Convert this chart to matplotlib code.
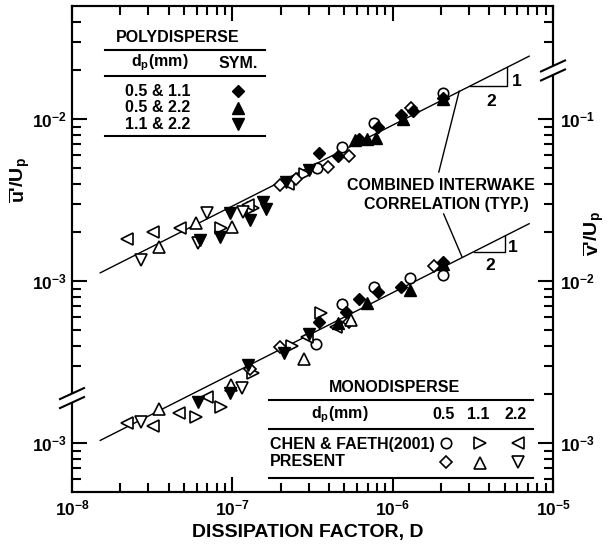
import numpy as np
import matplotlib
matplotlib.use('Agg')
import matplotlib.pyplot as plt
from matplotlib.lines import Line2D
from matplotlib.ticker import FixedLocator, FixedFormatter, NullFormatter
from matplotlib.transforms import IdentityTransform

plt.rcParams.update({
    'font.family': ['Liberation Sans', 'DejaVu Sans'],
    'font.weight': 'bold',
    'mathtext.fontset': 'custom',
    'mathtext.rm': 'Liberation Sans:bold',
    'mathtext.it': 'Liberation Sans:bold',
    'mathtext.bf': 'Liberation Sans:bold',
    'mathtext.sf': 'Liberation Sans:bold',
})

# ---------------- data: upper group (u'/Up, left axis) ----------------
u_poly_05_11_D = [3.45e-7, 4.55e-7, 6.2e-7, 8.13e-7, 1.13e-6, 1.34e-6, 2.05e-6]
u_poly_05_11 = [6.17e-3, 5.9e-3, 7.6e-3, 9.0e-3, 1.06e-2, 1.13e-2, 1.35e-2]
u_poly_05_22_D = [5.83e-7, 6.89e-7, 7.91e-7, 1.16e-6, 2.05e-6]
u_poly_05_22 = [7.4e-3, 7.6e-3, 7.62e-3, 1.0e-2, 1.33e-2]
u_poly_11_22_D = [6.25e-8, 8.32e-8, 9.70e-8, 1.28e-7, 1.55e-7, 1.62e-7, 2.16e-7, 3.01e-7]
u_poly_11_22 = [1.80e-3, 1.88e-3, 2.65e-3, 2.39e-3, 3.10e-3, 2.80e-3, 4.1e-3, 4.88e-3]
u_chen_05_D = [3.36e-7, 4.81e-7, 7.60e-7, 2.05e-6]
u_chen_05 = [4.98e-3, 6.78e-3, 9.44e-3, 1.445e-2]
u_chen_11_D = [8.55e-8, 1.35e-7, 2.85e-7]
u_chen_11 = [2.12e-3, 2.85e-3, 4.6e-3]
u_chen_22_D = [2.21e-8, 3.22e-8, 4.74e-8, 1.245e-7, 2.22e-7]
u_chen_22 = [1.82e-3, 2.0e-3, 2.12e-3, 2.96e-3, 4.0e-3]
u_pres_05_D = [1.99e-7, 2.48e-7, 3.96e-7, 5.37e-7, 1.30e-6]
u_pres_05 = [3.93e-3, 4.3e-3, 5.09e-3, 5.9e-3, 1.167e-2]
u_pres_11_D = [3.50e-8, 5.92e-8, 9.98e-8]
u_pres_11 = [1.63e-3, 2.28e-3, 2.17e-3]
u_pres_22_D = [2.69e-8, 6.14e-8, 6.98e-8, 1.159e-7]
u_pres_22 = [1.35e-3, 1.71e-3, 2.62e-3, 2.69e-3]

# ---------------- data: lower group (v'/Up, right axis) ----------------
v_poly_05_11_D = [3.45e-7, 5.08e-7, 6.17e-7, 8.13e-7, 1.13e-6, 2.05e-6]
v_poly_05_11 = [5.62e-3, 6.49e-3, 7.74e-3, 8.58e-3, 9.16e-3, 1.32e-2]
v_poly_05_22_D = [4.55e-7, 6.89e-7, 1.29e-6, 2.05e-6]
v_poly_05_22 = [5.55e-3, 7.37e-3, 8.80e-3, 1.27e-2]
v_poly_11_22_D = [6.14e-8, 9.70e-8, 1.245e-7, 2.10e-7, 3.01e-7]
v_poly_11_22 = [1.80e-3, 2.03e-3, 3.04e-3, 3.59e-3, 4.72e-3]
v_chen_05_D = [3.33e-7, 4.81e-7, 7.60e-7, 1.29e-6, 2.05e-6]
v_chen_05 = [4.10e-3, 7.23e-3, 9.16e-3, 1.04e-2, 1.09e-2]
v_chen_11_D = [5.92e-8, 8.55e-8, 1.35e-7, 2.35e-7, 3.55e-7]
v_chen_11 = [1.45e-3, 1.67e-3, 2.72e-3, 3.97e-3, 6.40e-3]
v_chen_22_D = [2.21e-8, 3.22e-8, 4.67e-8, 6.98e-8, 2.93e-7, 4.43e-7]
v_chen_22 = [1.34e-3, 1.28e-3, 1.53e-3, 1.93e-3, 4.54e-3, 5.24e-3]
v_pres_05_D = [1.28e-7, 1.99e-7, 5.37e-7, 1.81e-6]
v_pres_05 = [2.86e-3, 3.94e-3, 5.62e-3, 1.24e-2]
v_pres_11_D = [3.50e-8, 9.86e-8, 2.80e-7, 5.52e-7]
v_pres_11 = [1.62e-3, 2.29e-3, 3.30e-3, 5.8e-3]
v_pres_22_D = [2.69e-8, 1.146e-7]
v_pres_22 = [1.36e-3, 2.19e-3]

# correlation lines (end points, slope 1/2)
corr_D = [1.5e-8, 7.1e-6]
corr_u = [1.127e-3, 2.45e-2]
corr_v = [1.041e-3, 2.265e-2]

x_ticks = [1e-8, 1e-7, 1e-6, 1e-5]
x_ticklabels = [r'$10^{-8}$', r'$10^{-7}$', r'$10^{-6}$', r'$10^{-5}$']
left_ticks = [1e-4, 1e-3, 1e-2]
left_ticklabels = [r'$10^{-3}$', r'$10^{-3}$', r'$10^{-2}$']
right_ticks = [1e-3, 1e-2, 1e-1]
right_ticklabels = [r'$10^{-3}$', r'$10^{-2}$', r'$10^{-1}$']

W, H = 608, 546
fig = plt.figure(figsize=(W / 100, H / 100), dpi=100)
ax = fig.add_axes([72 / W, 1 - 492 / H, 481 / W, 486 / H])
ax.set_xscale('log')
ax.set_yscale('log')
ax.set_xlim(1e-8, 1e-5)
ax.set_ylim(5e-5, 5e-2)
axr = ax.twinx()
axr.set_yscale('log')
axr.set_ylim(5e-4, 0.5)


def minor_list(lo, hi, skip=()):
    out = []
    for e in range(-10, 2):
        for k in range(2, 10):
            v = k * 10.0 ** e
            if lo * 1.001 < v < hi * 0.999 and all(abs(v / s - 1) > 1e-3 for s in skip):
                out.append(v)
    return out


ax.xaxis.set_major_locator(FixedLocator(x_ticks))
ax.xaxis.set_major_formatter(FixedFormatter(x_ticklabels))
ax.xaxis.set_minor_locator(FixedLocator(minor_list(1e-8, 1e-5)))
ax.xaxis.set_minor_formatter(NullFormatter())
ax.yaxis.set_major_locator(FixedLocator(left_ticks))
ax.yaxis.set_major_formatter(FixedFormatter(left_ticklabels))
ax.yaxis.set_minor_locator(FixedLocator(minor_list(5e-5, 5e-2, skip=(2e-4,))))
ax.yaxis.set_minor_formatter(NullFormatter())
axr.yaxis.set_major_locator(FixedLocator(right_ticks))
axr.yaxis.set_major_formatter(FixedFormatter(right_ticklabels))
axr.yaxis.set_minor_locator(FixedLocator(minor_list(5e-4, 0.5, skip=(0.2,))))
axr.yaxis.set_minor_formatter(NullFormatter())

ax.tick_params(axis='x', which='both', direction='in', top=True, bottom=True, width=1.5, labelsize=12.5, pad=5)
ax.tick_params(axis='y', which='both', direction='in', left=True, right=False, width=1.5, labelsize=12.5, pad=4)
axr.tick_params(axis='y', which='both', direction='in', right=True, left=False, width=1.5, labelsize=12.5, pad=5)
for a in (ax, axr):
    a.tick_params(which='major', length=11)
    a.tick_params(which='minor', length=6.5)
    for s in a.spines.values():
        s.set_linewidth(1.5)

mk_open = dict(linestyle='none', markerfacecolor='white', markeredgecolor='black', markeredgewidth=1.2)
mk_fill = dict(linestyle='none', color='black')
sz = {'o': 7.5, '>': 9, '<': 9, 'D': 6.5, '^': 9, 'v': 9}


def series(a, D, y, m, filled):
    kw = mk_fill if filled else mk_open
    a.plot(D, y, marker=m, markersize=sz[m], **kw, zorder=3)


# upper group
series(ax, u_chen_05_D, u_chen_05, 'o', False)
series(ax, u_chen_11_D, u_chen_11, '>', False)
series(ax, u_chen_22_D, u_chen_22, '<', False)
series(ax, u_pres_05_D, u_pres_05, 'D', False)
series(ax, u_pres_11_D, u_pres_11, '^', False)
series(ax, u_pres_22_D, u_pres_22, 'v', False)
series(ax, u_poly_05_11_D, u_poly_05_11, 'D', True)
series(ax, u_poly_05_22_D, u_poly_05_22, '^', True)
series(ax, u_poly_11_22_D, u_poly_11_22, 'v', True)
# lower group
series(axr, v_chen_05_D, v_chen_05, 'o', False)
series(axr, v_chen_11_D, v_chen_11, '>', False)
series(axr, v_chen_22_D, v_chen_22, '<', False)
series(axr, v_pres_05_D, v_pres_05, 'D', False)
series(axr, v_pres_11_D, v_pres_11, '^', False)
series(axr, v_pres_22_D, v_pres_22, 'v', False)
series(axr, v_poly_05_11_D, v_poly_05_11, 'D', True)
series(axr, v_poly_05_22_D, v_poly_05_22, '^', True)
series(axr, v_poly_11_22_D, v_poly_11_22, 'v', True)

ax.plot(corr_D, corr_u, color='black', lw=1.0, zorder=2)
axr.plot(corr_D, corr_v, color='black', lw=1.0, zorder=2)

# slope triangles
ax.plot([3.05e-6, 5.2e-6, 5.2e-6], [1.607e-2, 1.607e-2, 2.098e-2], color='black', lw=1.0)
axr.plot([3.2e-6, 5.05e-6, 5.05e-6], [1.52e-2, 1.52e-2, 1.91e-2], color='black', lw=1.0)
# leader lines
axr.plot([2.6e-6, 1.94e-6], [0.149, 0.0472], color='black', lw=1.0)
axr.plot([2.08e-6, 2.71e-6], [0.026, 0.0141], color='black', lw=1.0)


def ft(x, y, s, size=11, ha='center', va='center', **kw):
    fig.text(x / W, 1 - y / H, s, fontsize=size, ha=ha, va=va, fontweight='bold', **kw)


def fl(x0, x1, y, lw=1.5):
    fig.add_artist(Line2D([x0 / W, x1 / W], [1 - y / H, 1 - y / H], color='black', lw=lw,
                          transform=fig.transFigure))


def fm(x, y, m, filled):
    kw = mk_fill if filled else mk_open
    fig.add_artist(Line2D([x / W], [1 - y / H], marker=m, markersize=sz[m],
                          transform=fig.transFigure, **kw))


ft(517, 81, '1', 12.5)
ft(491, 101, '2', 12.5)
ft(513, 248, '1', 12.5)
ft(490, 265, '2', 12.5)
ft(441, 186, 'COMBINED INTERWAKE', 11.5)
ft(446, 204, 'CORRELATION (TYP.)', 11.5)

# polydisperse table
ft(178, 38, 'POLYDISPERSE', 11.5)
fl(105, 265, 49.5)
ft(160, 63, r'd$_\mathregular{p}$(mm)', 11.5)
ft(238, 63, 'SYM.', 11.5)
fl(105, 265, 76.5)
ft(158, 91, '0.5 & 1.1', 11.5)
ft(158, 108, '0.5 & 2.2', 11.5)
ft(158, 124.5, '1.1 & 2.2', 11.5)
fm(238, 91, 'D', True)
fm(238, 107.5, '^', True)
fm(238, 124, 'v', True)
fl(105, 265, 135.5)

# monodisperse table
ft(394, 387, 'MONODISPERSE', 11.5)
fl(269, 533, 400)
ft(340, 414.5, r'd$_\mathregular{p}$(mm)', 11.5)
ft(444, 414.5, '0.5', 11.5)
ft(478, 414.5, '1.1', 11.5)
ft(516, 414.5, '2.2', 11.5)
fl(269, 533, 428.5)
ft(270, 444, 'CHEN & FAETH(2001)', 11.5, ha='left')
ft(270, 461, 'PRESENT', 11.5, ha='left')
fm(446, 443, 'o', False)
fm(480, 443, '>', False)
fm(518, 443, '<', False)
fm(446, 462, 'D', False)
fm(480, 463, '^', False)
fm(518, 462, 'v', False)
fl(269, 533, 478)

# axis labels
ft(308, 532, 'DISSIPATION FACTOR, D', 14)
ft(20, 180, r"$\overline{\mathrm{u}}$'/U$_\mathregular{p}$", 14, rotation=90)
ft(594, 234, r"$\overline{\mathrm{v}}$'/U$_\mathregular{p}$", 14, rotation=90)


# axis break marks
def draw_break(xd, yd):
    fig.add_artist(Line2D([xd, xd], [yd - 4.5, yd + 4.5], color='white', lw=4,
                          transform=IdentityTransform(), solid_capstyle='butt'))
    for off in (-4.5, 4.5):
        fig.add_artist(Line2D([xd - 12, xd + 12], [yd + off - 5.5, yd + off + 5.5], color='black',
                              lw=1.5, transform=IdentityTransform()))


bx, by = ax.transData.transform((1e-8, 1.9e-4))
draw_break(bx, by)
bx, by = axr.transData.transform((1e-5, 0.2))
draw_break(bx, by)

fig.savefig('out.png', dpi=100)
